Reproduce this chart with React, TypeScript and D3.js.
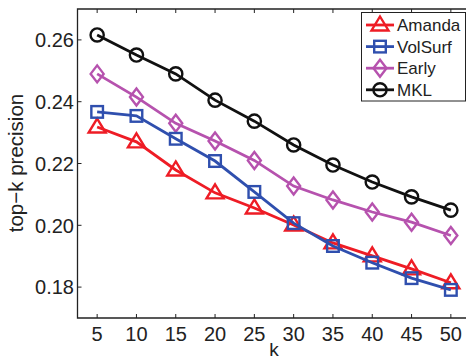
import React, { useEffect, useRef } from 'react';
import * as d3 from 'd3';

const ks = [5, 10, 15, 20, 25, 30, 35, 40, 45, 50];
const amanda = [0.2318, 0.227, 0.2179, 0.2105, 0.2056, 0.2001, 0.1943, 0.1901, 0.1859, 0.1814];
const volsurf = [0.2367, 0.2354, 0.228, 0.2208, 0.2108, 0.2007, 0.1933, 0.1879, 0.1829, 0.1791];
const early = [0.249, 0.2415, 0.233, 0.2273, 0.221, 0.2127, 0.2082, 0.2043, 0.201, 0.1967];
const mkl = [0.2616, 0.2551, 0.249, 0.2405, 0.2337, 0.226, 0.2195, 0.214, 0.2092, 0.2049];
const yTicks = [0.18, 0.2, 0.22, 0.24, 0.26];
const seriesNames = ['Amanda', 'VolSurf', 'Early', 'MKL'];
const seriesColors = ['#ee1c25', '#2f4fae', '#b652ae', '#111111'];
const seriesMarkers = ['triangle', 'square', 'diamond', 'circle'];

export default function App() {
  const ref = useRef<SVGSVGElement | null>(null);

  useEffect(() => {
    const svg = d3.select(ref.current);
    svg.selectAll('*').remove();
    const font = 'Liberation Sans, Arial, sans-serif';

    const x = d3.scaleLinear().domain([2.5, 52.5]).range([77.5, 470.5]);
    const y = d3.scaleLinear().domain([0.17, 0.27]).range([318, 9]);

    const g = svg.append('g');

    // frame
    g.append('path')
      .attr('d', `M${x(52.5)},${y(0.27)}H${x(2.5)}V${y(0.17)}H${x(52.5)}`)
      .attr('fill', 'none')
      .attr('stroke', '#222')
      .attr('stroke-width', 1.3);

    // x ticks (bottom and top, inward)
    ks.forEach((k) => {
      g.append('line').attr('x1', x(k)).attr('x2', x(k)).attr('y1', y(0.17)).attr('y2', y(0.17) - 4)
        .attr('stroke', '#222').attr('stroke-width', 1);
      g.append('line').attr('x1', x(k)).attr('x2', x(k)).attr('y1', y(0.27)).attr('y2', y(0.27) + 4)
        .attr('stroke', '#222').attr('stroke-width', 1);
      g.append('text').attr('x', x(k)).attr('y', 341).attr('text-anchor', 'middle')
        .attr('font-family', font).attr('font-size', 20).attr('fill', '#222').text(String(k));
    });

    yTicks.forEach((t) => {
      g.append('line').attr('x1', x(2.5)).attr('x2', x(2.5) + 4).attr('y1', y(t)).attr('y2', y(t))
        .attr('stroke', '#222').attr('stroke-width', 1);
      g.append('text').attr('x', 74).attr('y', y(t)).attr('dy', '0.36em').attr('text-anchor', 'end')
        .attr('font-family', font).attr('font-size', 20).attr('fill', '#222').text(t.toFixed(2));
    });

    g.append('text').attr('transform', `translate(23,163) rotate(-90)`).attr('text-anchor', 'middle')
      .attr('font-family', font).attr('font-size', 20.5).attr('fill', '#222').text('top\u2212k precision');
    g.append('text').attr('x', 274).attr('y', 356).attr('text-anchor', 'middle')
      .attr('font-family', font).attr('font-size', 19).attr('fill', '#222').text('k');

    const drawMarker = (sel: any, type: string, cx: number, cy: number, color: string) => {
      if (type === 'triangle') {
        sel.append('path').attr('d', `M${cx},${cy - 8.5}L${cx + 8.5},${cy + 5.5}L${cx - 8.5},${cy + 5.5}Z`)
          .attr('fill', 'none').attr('stroke', color).attr('stroke-width', 2.4);
      } else if (type === 'square') {
        const s = 5.8;
        sel.append('rect').attr('x', cx - s).attr('y', cy - s).attr('width', 2 * s).attr('height', 2 * s)
          .attr('fill', 'none').attr('stroke', color).attr('stroke-width', 2.4);
      } else if (type === 'diamond') {
        sel.append('path').attr('d', `M${cx},${cy - 8.5}L${cx + 6.5},${cy}L${cx},${cy + 8.5}L${cx - 6.5},${cy}Z`)
          .attr('fill', 'none').attr('stroke', color).attr('stroke-width', 2.4);
      } else {
        sel.append('circle').attr('cx', cx).attr('cy', cy).attr('r', 6.6)
          .attr('fill', 'none').attr('stroke', color).attr('stroke-width', 2.4);
      }
    };

    const allSeries = [amanda, volsurf, early, mkl];
    const line = d3.line<number>().x((_, i) => x(ks[i])).y((d) => y(d));
    // MKL and Early at the back, VolSurf drawn over Amanda
    [3, 2, 0, 1].forEach((si) => {
      const data = allSeries[si];
      const sg = g.append('g');
      sg.append('path').attr('d', line(data) as string).attr('fill', 'none')
        .attr('stroke', seriesColors[si]).attr('stroke-width', 2.8);
      data.forEach((v, i) => drawMarker(sg, seriesMarkers[si], x(ks[i]), y(v), seriesColors[si]));
    });

    // legend
    const lg = g.append('g');
    lg.append('rect').attr('x', 361.5).attr('y', 12.5).attr('width', 104).attr('height', 88.5)
      .attr('fill', '#fff').attr('stroke', '#222').attr('stroke-width', 1);
    seriesNames.forEach((name, i) => {
      const ly = 25 + i * 21.6;
      lg.append('line').attr('x1', 366).attr('x2', 394).attr('y1', ly).attr('y2', ly)
        .attr('stroke', seriesColors[i]).attr('stroke-width', 2.8);
      drawMarker(lg, seriesMarkers[i], 380, ly, seriesColors[i]);
      lg.append('text').attr('x', 397).attr('y', ly).attr('dy', '0.36em')
        .attr('font-family', font).attr('font-size', 17).attr('fill', '#222').text(name);
    });
  }, []);

  return (
    <svg ref={ref} width={466} height={360}
      style={{ position: 'absolute', left: 0, top: 0, background: '#fff' }} />
  );
}
